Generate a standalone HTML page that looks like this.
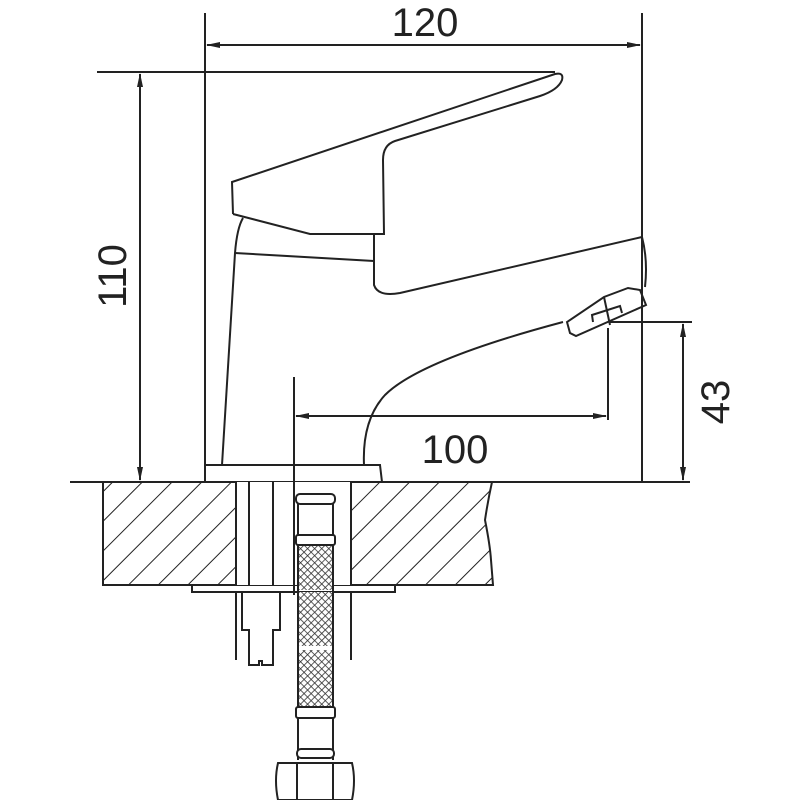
<!DOCTYPE html>
<html><head><style>body{margin:0;background:#fff}svg{display:block}</style></head><body>
<svg width="800" height="800" viewBox="0 0 800 800" xmlns="http://www.w3.org/2000/svg">
<defs>
<pattern id="hatch" patternUnits="userSpaceOnUse" width="21" height="21" patternTransform="rotate(45)">
<line x1="0" y1="0" x2="0" y2="21" stroke="#222" stroke-width="2"/>
</pattern>
<pattern id="mesh" patternUnits="userSpaceOnUse" width="5" height="5" patternTransform="rotate(45)">
<rect width="5" height="5" fill="#fff"/>
<line x1="0" y1="0" x2="5" y2="0" stroke="#333" stroke-width="1.6"/>
<line x1="0" y1="0" x2="0" y2="5" stroke="#333" stroke-width="1.6"/>
</pattern>
<marker id="ar" markerWidth="14" markerHeight="8" refX="13" refY="4" orient="auto" markerUnits="userSpaceOnUse">
<path d="M0,1 L14,4 L0,7 z" fill="#222"/></marker>
</defs>
<g fill="none" stroke="#222" stroke-width="2">
<!-- counter -->
<path d="M103,482 L236,482 L236,585 L103,585 z" fill="url(#hatch)"/>
<path d="M351,482 L492,482 Q488,500 485,520 Q490,545 491,560 L493,585 L351,585 z" fill="url(#hatch)"/>
<rect x="192" y="585" width="203" height="7" fill="#fff"/>
<line x1="70" y1="482" x2="690" y2="482"/>
<!-- rod -->
<rect x="236" y="482" width="115" height="103" fill="#fff" stroke="none"/>
<line x1="236" y1="482" x2="236" y2="585"/>
<line x1="351" y1="482" x2="351" y2="585"/>
<line x1="249" y1="482" x2="249" y2="585"/>
<line x1="273" y1="482" x2="273" y2="585"/>
<line x1="236" y1="592" x2="236" y2="660"/>
<line x1="351" y1="592" x2="351" y2="660"/>
<path d="M242,592 L242,630 L249,630 L249,665 L259,665 L259,661 L262,661 L262,665 L273,665 L273,630 L280,630 L280,592"/>
<!-- hose -->
<rect x="298" y="545" width="35" height="45" fill="url(#mesh)" stroke="none"/>
<rect x="298" y="592" width="35" height="54" fill="url(#mesh)" stroke="none"/>
<rect x="298" y="650" width="35" height="57" fill="url(#mesh)" stroke="none"/>
<line x1="298" y1="496" x2="298" y2="760"/>
<line x1="333" y1="496" x2="333" y2="760"/>
<rect x="296" y="494" width="39" height="10" rx="4" fill="#fff"/>
<rect x="296" y="535" width="39" height="10" rx="2" fill="#fff"/>
<rect x="296" y="707" width="39" height="11" rx="2" fill="#fff"/>
<rect x="297" y="749" width="37" height="9" rx="4" fill="#fff"/>
<path d="M278,763 L352,763 Q356,780 352,800 L278,800 Q274,780 278,763 z" fill="#fff"/>
<line x1="297" y1="763" x2="297" y2="800"/><line x1="333" y1="763" x2="333" y2="800"/>
<!-- base plate -->
<path d="M205,482 L205,465 L380,465 L382,482"/>
<!-- body -->
<path d="M222,465 L235,253 Q237,228 243,218"/>
<path d="M235,253 L374,261"/>
<path d="M364,465 Q362,420 385,395 Q420,360 563,322"/>
<!-- lever -->
<path d="M233,214 L232,182 L555,74 Q564,72 562,80 Q558,90 540,96 L395,141 Q383,145 383,160 L384,234 L310,234 L233,214"/>
<!-- handle block -->
<path d="M374,233 L374,285 Q378,297 400,293 L642,237 Q648,260 645,287"/>
<!-- nozzle -->
<path d="M567,322 L570,333 L576,336 L646,305 L640,290 L628,288 L604,297 Z"/>
<line x1="604" y1="297" x2="610" y2="325"/>
<path d="M593,322 L592,315 L620,306 L622,313"/>
<!-- dimension lines -->
<line x1="205" y1="13" x2="205" y2="465"/>
<line x1="642" y1="13" x2="642" y2="482"/>
<line x1="425" y1="45" x2="207" y2="45" marker-end="url(#ar)"/>
<line x1="425" y1="45" x2="640" y2="45" marker-end="url(#ar)"/>
<line x1="97" y1="72" x2="555" y2="72"/>
<line x1="140" y1="280" x2="140" y2="74" marker-end="url(#ar)"/>
<line x1="140" y1="280" x2="140" y2="480" marker-end="url(#ar)"/>
<line x1="610" y1="322" x2="692" y2="322"/>
<line x1="683" y1="400" x2="683" y2="324" marker-end="url(#ar)"/>
<line x1="683" y1="400" x2="683" y2="480" marker-end="url(#ar)"/>
<line x1="294" y1="377" x2="294" y2="595"/>
<line x1="608" y1="328" x2="608" y2="420"/>
<line x1="450" y1="416" x2="296" y2="416" marker-end="url(#ar)"/>
<line x1="450" y1="416" x2="606" y2="416" marker-end="url(#ar)"/>
</g>
<g font-family="Liberation Sans, sans-serif" font-size="40" fill="#222">
<text x="425" y="36" text-anchor="middle">120</text>
<text x="455" y="463" text-anchor="middle">100</text>
<text transform="translate(126,276) rotate(-90)" text-anchor="middle">110</text>
<text transform="translate(729,402) rotate(-90)" text-anchor="middle">43</text>
</g>
</svg>
</body></html>
